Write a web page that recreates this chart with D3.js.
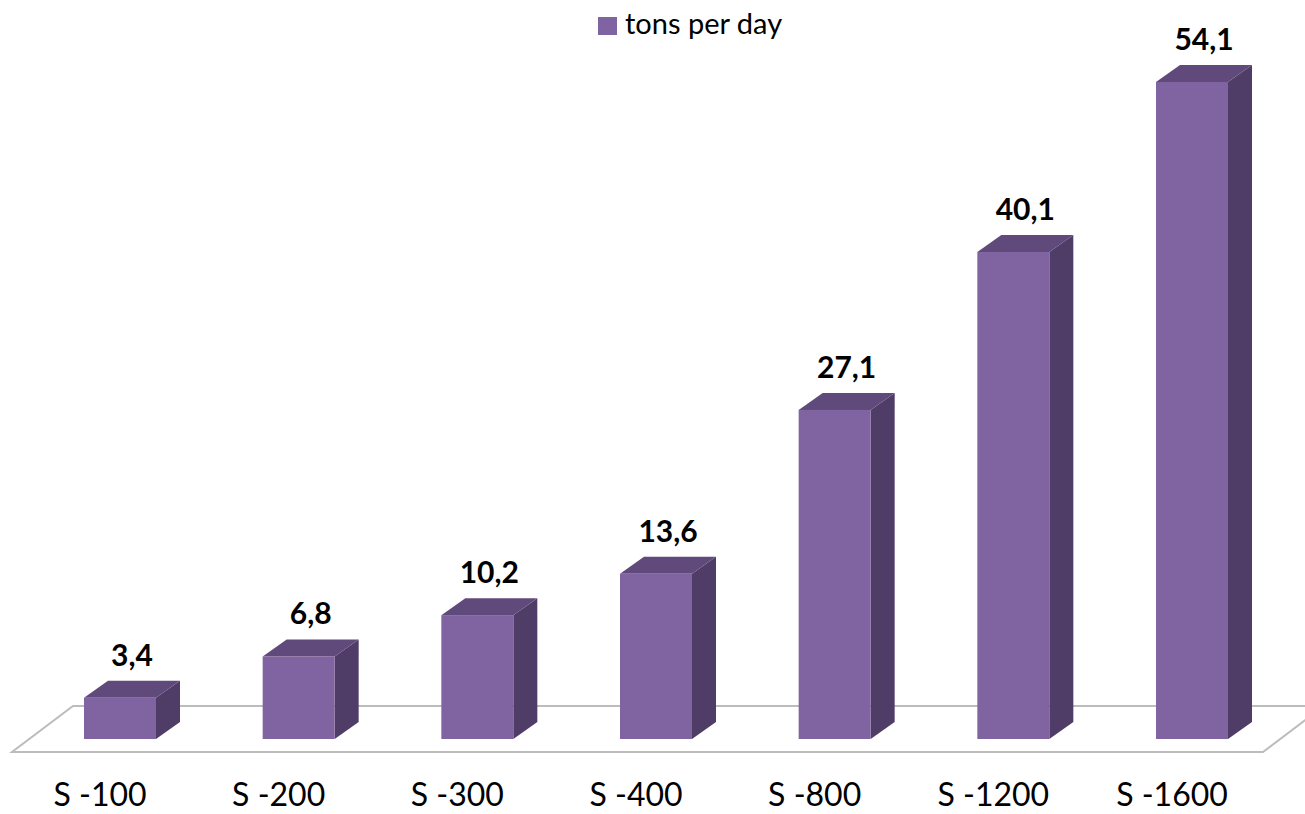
<!DOCTYPE html>
<html>
<head>
<meta charset="utf-8">
<script src="https://cdn.jsdelivr.net/npm/d3@7"></script>
<style>
  html, body { margin: 0; padding: 0; background: #fff; }
  svg { display: block; font-family: Lato, "Open Sans", sans-serif; }
</style>
</head>
<body>
<svg id="chart" width="1305" height="814"></svg>
<script>
const categories = ["S -100", "S -200", "S -300", "S -400", "S -800", "S -1200", "S -1600"];
const values = [3.4, 6.8, 10.2, 13.6, 27.1, 40.1, 54.1];
const valueLabels = ["3,4", "6,8", "10,2", "13,6", "27,1", "40,1", "54,1"];
const seriesName = "tons per day";

const W = 1305, H = 814;
const svg = d3.select("#chart");

const depthX = 24, depthY = 17;
const baseY = 739;

const x = d3.scaleBand()
  .domain(categories)
  .range([84, 1228])
  .paddingInner(0.597)
  .paddingOuter(0);

const y = d3.scaleLinear()
  .domain([0, d3.max(values)])
  .range([baseY, 82]);

const colFront = "#8064a2", colTop = "#604a7b", colSide = "#4f3d67";

// floor
const floorFrontY = 752, floorBackY = 706, floorLeft = 12, floorRight = 1263, floorSkew = 61;
svg.append("polygon")
  .attr("points", [
    [floorLeft, floorFrontY], [floorRight, floorFrontY],
    [floorRight + floorSkew, floorBackY], [floorLeft + floorSkew, floorBackY]
  ].map(p => p.join(",")).join(" "))
  .attr("fill", "#fff")
  .attr("stroke", "#bcbcbc")
  .attr("stroke-width", 2);

const bars = svg.append("g").selectAll("g").data(categories).join("g");

bars.each(function(c, i) {
  const g = d3.select(this);
  const x0 = x(c), bw = x.bandwidth();
  const yt = y(values[i]), yb = y(0);
  // side
  g.append("polygon")
    .attr("points", [[x0 + bw, yb], [x0 + bw + depthX, yb - depthY], [x0 + bw + depthX, yt - depthY], [x0 + bw, yt]].map(p => p.join(",")).join(" "))
    .attr("fill", colSide);
  // top
  g.append("polygon")
    .attr("points", [[x0, yt], [x0 + depthX, yt - depthY], [x0 + bw + depthX, yt - depthY], [x0 + bw, yt]].map(p => p.join(",")).join(" "))
    .attr("fill", colTop);
  // front
  g.append("rect")
    .attr("x", x0).attr("y", yt)
    .attr("width", bw).attr("height", yb - yt)
    .attr("fill", colFront);
  // value label
  g.append("text")
    .attr("x", x0 + bw / 2 + depthX / 2)
    .attr("y", yt - depthY - 15)
    .attr("text-anchor", "middle")
    .attr("font-size", 30)
    .attr("font-weight", "bold")
    .attr("fill", "#000")
    .text(valueLabels[i]);
  // category label
  g.append("text")
    .attr("x", x0 + bw / 2 - 20)
    .attr("y", 806)
    .attr("text-anchor", "middle")
    .attr("font-size", 32)
    .attr("fill", "#000")
    .text(c);
});

// legend
const lg = svg.append("g");
lg.append("rect").attr("x", 598).attr("y", 17).attr("width", 19).attr("height", 18).attr("fill", colFront);
lg.append("text").attr("x", 625).attr("y", 34).attr("font-size", 29).attr("fill", "#000").text(seriesName);
</script>
</body>
</html>
